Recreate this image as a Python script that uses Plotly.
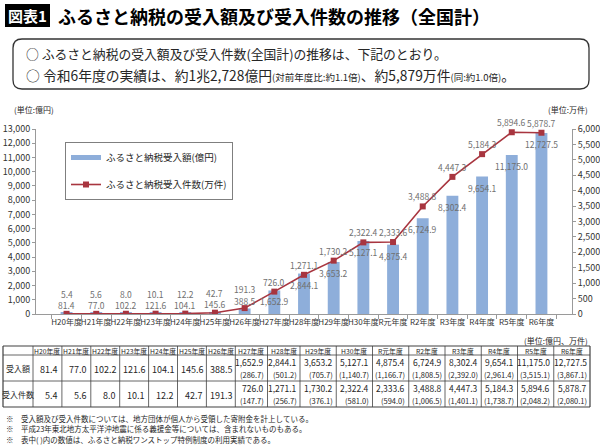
import plotly.graph_objects as go

# ---------------- data ----------------
categories = ["H20年度", "H21年度", "H22年度", "H23年度", "H24年度", "H25年度", "H26年度",
              "H27年度", "H28年度", "H29年度", "H30年度", "R元年度", "R2年度", "R3年度",
              "R4年度", "R5年度", "R6年度"]
amount = [81.4, 77.0, 102.2, 121.6, 104.1, 145.6, 388.5, 1652.9, 2844.1, 3653.2,
          5127.1, 4875.4, 6724.9, 8302.4, 9654.1, 11175.0, 12727.5]
count = [5.4, 5.6, 8.0, 10.1, 12.2, 42.7, 191.3, 726.0, 1271.1, 1730.2,
         2322.4, 2333.6, 3488.8, 4447.3, 5184.3, 5894.6, 5878.7]
amount_onestop = [None, None, None, None, None, None, None, 286.7, 501.2, 705.7,
                  1140.7, 1166.7, 1808.5, 2392.0, 2961.4, 3515.1, 3867.1]
count_onestop = [None, None, None, None, None, None, None, 147.7, 256.7, 376.1,
                 581.0, 594.0, 1006.5, 1401.1, 1738.7, 2048.2, 2080.1]
left_ticks = list(range(0, 13001, 1000))
right_ticks = list(range(0, 6001, 500))
row_labels = ["受入額", "受入件数"]
bar_name = "ふるさと納税受入額(億円)"
line_name = "ふるさと納税受入件数(万件)"
title_tag = "図表1"
title_text = "ふるさと納税の受入額及び受入件数の推移（全国計）"
footnotes = [
    "※　受入額及び受入件数については、地方団体が個人から受領した寄附金を計上している。",
    "※　平成23年東北地方太平洋沖地震に係る義援金等については、含まれないものもある。",
    "※　表中( )内の数値は、ふるさと納税ワンストップ特例制度の利用実績である。",
]

# ---------------- layout helpers ----------------
W, H = 600, 445
FONT = "Noto Sans CJK JP"
BAR_COLOR = "#8EAEDA"
LINE_COLOR = "#A8353F"
LABEL_COLOR = "#707070"
TXT = "#262626"


def px(x):
    return x / W


def py(y):
    return 1 - y / H


ann = []


def pa(x, y, text, size, xanchor="center", color=TXT):
    ann.append(dict(x=px(x), y=py(y), xref="paper", yref="paper", text=text, showarrow=False,
                    xanchor=xanchor, yanchor="middle", font=dict(size=size, color=color)))


PX0, PX1, PY0, PY1 = 36, 572, 129, 314

fig = go.Figure()
fig.add_trace(go.Bar(x=categories, y=amount, name=bar_name, marker_color=BAR_COLOR,
                     showlegend=False, yaxis="y"))
# legend-only swatch for the bar series (drawn as a short thick line, as in the source)
fig.add_trace(go.Scatter(x=[None], y=[None], mode="lines", name=bar_name,
                         line=dict(color=BAR_COLOR, width=5), legendgroup="a"))
fig.add_trace(go.Scatter(x=categories, y=count, name=line_name, yaxis="y2",
                         mode="lines+markers", legendgroup="b",
                         line=dict(color=LINE_COLOR, width=1.6),
                         marker=dict(symbol="square", size=6, color=LINE_COLOR)))

# data labels
for c, a in zip(categories, amount):
    above = a < 1000
    ann.append(dict(x=c, y=a, xref="x", yref="y", text=f"{a:,.1f}", showarrow=False,
                    xanchor="center", yanchor="middle", yshift=7.5 if above else -11,
                    font=dict(size=8.5, color=LABEL_COLOR)))
for c, n in zip(categories, count):
    ann.append(dict(x=c, y=n, xref="x", yref="y2", text=f"{n:,.1f}", showarrow=False,
                    xanchor="center", yanchor="middle", yshift=19.5 if n < 500 else 10,
                    font=dict(size=8.5, color=LABEL_COLOR)))

# title block
shapes = [dict(type="rect", xref="paper", yref="paper", x0=px(5), x1=px(50), y0=py(27), y1=py(4),
               fillcolor="black", line=dict(width=0), layer="below")]
pa(27.5, 15.5, f"<b>{title_tag}</b>", 15, color="white")
pa(56, 16, f"<b>{title_text}</b>", 18, xanchor="left", color="black")

# rounded summary box
bx0, bx1, by0, by1, r = 13, 589, 39, 89, 9
path = (f"M {px(bx0 + r)} {py(by0)} L {px(bx1 - r)} {py(by0)} "
        f"Q {px(bx1)} {py(by0)} {px(bx1)} {py(by0 + r)} L {px(bx1)} {py(by1 - r)} "
        f"Q {px(bx1)} {py(by1)} {px(bx1 - r)} {py(by1)} L {px(bx0 + r)} {py(by1)} "
        f"Q {px(bx0)} {py(by1)} {px(bx0)} {py(by1 - r)} L {px(bx0)} {py(by0 + r)} "
        f"Q {px(bx0)} {py(by0)} {px(bx0 + r)} {py(by0)} Z")
shapes.append(dict(type="path", xref="paper", yref="paper", path=path,
                   line=dict(color="#333333", width=1.3)))
pa(24, 53, "○ ふるさと納税の受入額及び受入件数(全国計)の推移は、下記のとおり。", 12.8, xanchor="left")
small = "<span style='font-size:9.5px'>"
pa(24, 75, ("○ 令和6年度の実績は、約1兆2,728億円" + small + "(対前年度比:約1.1倍)</span>"
            + "、約5,879万件" + small + "(同:約1.0倍)</span>。"), 13.8, xanchor="left")

# unit labels
pa(12, 109, "(単位:億円)", 8, xanchor="left")
pa(590, 109, "(単位:万件)", 8, xanchor="right")
pa(590, 340, "(単位:億円、万件)", 8, xanchor="right")

# ---------------- table ----------------
col_edges = [3, 33]
for i in range(7):
    col_edges.append(33 + (235.3 - 33) * (i + 1) / 7)
col_edges += [267.5, 300]
for i in range(8):
    col_edges.append(300 + (590 - 300) * (i + 1) / 8)
row_edges = [346, 355, 381, 407]
TL = "#404040"
for i, xe in enumerate(col_edges):
    shapes.append(dict(type="line", xref="paper", yref="paper", x0=px(xe), x1=px(xe),
                       y0=py(row_edges[0]), y1=py(row_edges[-1]),
                       line=dict(color=TL, width=1.2 if i in (0, len(col_edges) - 1) else 0.8)))
for i, ye in enumerate(row_edges):
    shapes.append(dict(type="line", xref="paper", yref="paper", x0=px(col_edges[0]),
                       x1=px(col_edges[-1]), y0=py(ye), y1=py(ye),
                       line=dict(color=TL, width=1.2 if i in (0, len(row_edges) - 1) else 0.8)))
# header
for j, c in enumerate(categories):
    xc = (col_edges[j + 1] + col_edges[j + 2]) / 2
    pa(xc, (row_edges[0] + row_edges[1]) / 2, c, 6.8)
# row labels
for k, lab in enumerate(row_labels):
    pa((col_edges[0] + col_edges[1]) / 2, (row_edges[k + 1] + row_edges[k + 2]) / 2, lab, 8)
# values
for k, (vals, sub) in enumerate([(amount, amount_onestop), (count, count_onestop)]):
    top, bot = row_edges[k + 1], row_edges[k + 2]
    for j, (v, s) in enumerate(zip(vals, sub)):
        xr = col_edges[j + 2] - 1.5
        if s is None:
            pa(xr, (top + bot) / 2 + 1, f"{v:,.1f}", 9, xanchor="right")
        else:
            pa(xr, top + 7, f"{v:,.1f}", 8.5, xanchor="right")
            pa(xr, top + 19.5, f"({s:,.1f})", 7.5, xanchor="right")

# footnotes
for i, t in enumerate(footnotes):
    pa(4, 418 + 10.5 * i, t, 7.5, xanchor="left")

AX = "#9A9A9A"
fig.update_layout(
    template="none",
    width=W, height=H,
    margin=dict(l=0, r=0, t=0, b=0),
    paper_bgcolor="white", plot_bgcolor="white",
    font=dict(family=FONT, color=TXT),
    bargap=0.6,
    xaxis=dict(domain=[px(PX0), px(PX1)], type="category", showgrid=False, showline=True,
               linecolor=AX, ticks="outside", tickson="boundaries", ticklen=4, tickcolor=AX,
               tickangle=0, tickfont=dict(size=8, color="#333333"), automargin=False,
               zeroline=False),
    yaxis=dict(domain=[py(PY1), py(PY0)], range=[0, 13000], tickvals=left_ticks,
               tickformat=",", showgrid=False, showline=True, linecolor=AX, ticks="outside",
               ticklen=3, tickcolor=AX, tickfont=dict(size=9, color="#333333"),
               automargin=False, zeroline=False),
    yaxis2=dict(overlaying="y", side="right", anchor="x", range=[0, 6000], tickvals=right_ticks,
                tickformat=",", showgrid=False, showline=True, linecolor=AX, ticks="outside",
                ticklen=3, tickcolor=AX, tickfont=dict(size=9, color="#333333"),
                automargin=False, zeroline=False),
    legend=dict(x=px(65), y=py(142), xanchor="left", yanchor="top", bordercolor="#7F7F7F",
                borderwidth=1, bgcolor="white", font=dict(size=9.5, color=TXT),
                traceorder="grouped", tracegroupgap=8),
    shapes=shapes,
    annotations=ann,
)

fig.write_html("out.html")
